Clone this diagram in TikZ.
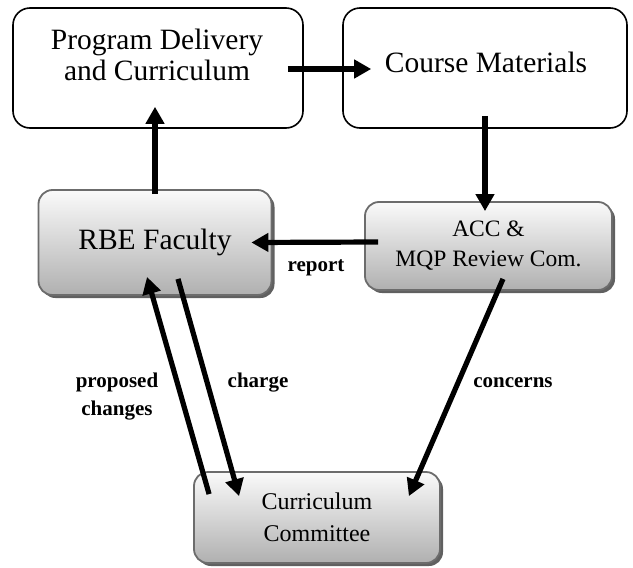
\documentclass[tikz,border=0pt]{standalone}
\usepackage{fontspec}
\setmainfont{Liberation Serif}
\usetikzlibrary{arrows.meta,shadows,calc}
\begin{document}
\begin{tikzpicture}[x=1pt,y=-1pt,
  whitebox/.style={draw=black,line width=1.6pt,rounded corners=17pt,fill=white,inner sep=0pt},
  graybox/.style={draw=gray!85!black,line width=1.8pt,rounded corners=14pt,top color=gray!4,bottom color=gray!62,
    drop shadow={shadow xshift=3pt,shadow yshift=-3pt,fill=gray!75!black,opacity=1},align=center,inner sep=0pt},
  bigtxt/.style={font=\fontsize{29.5}{31}\selectfont,align=center,inner sep=0pt},
  arr/.style={line width=5.2pt,-{Triangle[length=17pt,width=18pt]}},
  lbl/.style={font=\fontsize{21}{28}\selectfont\bfseries,align=center,inner sep=0pt}]
\useasboundingbox (0,0) rectangle (633,568);
\node[whitebox,minimum width=290pt,minimum height=120pt] (pd) at (158,68) {};
\node[bigtxt] (pdt) at (157,55) {Program Delivery\\and Curriculum};
\node[whitebox,minimum width=284pt,minimum height=120pt] (cm) at (485,68) {};
\node[bigtxt] (cmt) at (486,62) {Course Materials};
\node[graybox,minimum width=233pt,minimum height=105pt,font=\fontsize{29.5}{32}\selectfont] (rbe) at (155,242.5) {RBE Faculty};
\node[graybox,minimum width=247pt,minimum height=88pt,font=\fontsize{23.5}{30}\selectfont] (acc) at (488.5,246) {ACC \&\\MQP Review Com.};
\node[graybox,minimum width=246pt,minimum height=91pt,font=\fontsize{24}{32}\selectfont] (cc) at (317,517.5) {Curriculum\\Committee};
\draw[arr] ($(pd.east)+(-16,1)$) -- ($(cm.west)+(29,1)$);
\draw[arr] ($(rbe.north)+(0,5)$) -- ($(rbe.north |- pd.south)+(0,-22)$);
\draw[arr] ($(cm.south)+(0,-13)$) -- ($(cm.south |- acc.north)+(0,10)$);
\draw[arr] ($(acc.west)+(14,-4)$) -- ($(rbe.east)+(-21,0)$);
\draw[arr] ($(cc.north west)+(16,23)$) -- ($(rbe.south)+(-8,-19)$);
\draw[arr] ($(rbe.south)+(23,-17)$) -- ($(cc.north west)+(46,25)$);
\draw[arr] ($(acc.south)+(14.5,-12)$) -- ($(cc.north east)+(-32,25)$);
\node[lbl] (lrep) at (316,268) {report};
\node[lbl] (lprop) at (117,397) {proposed\\changes};
\node[lbl] (lch) at (258,383) {charge};
\node[lbl] (lcon) at (513,383) {concerns};
\end{tikzpicture}
\end{document}
